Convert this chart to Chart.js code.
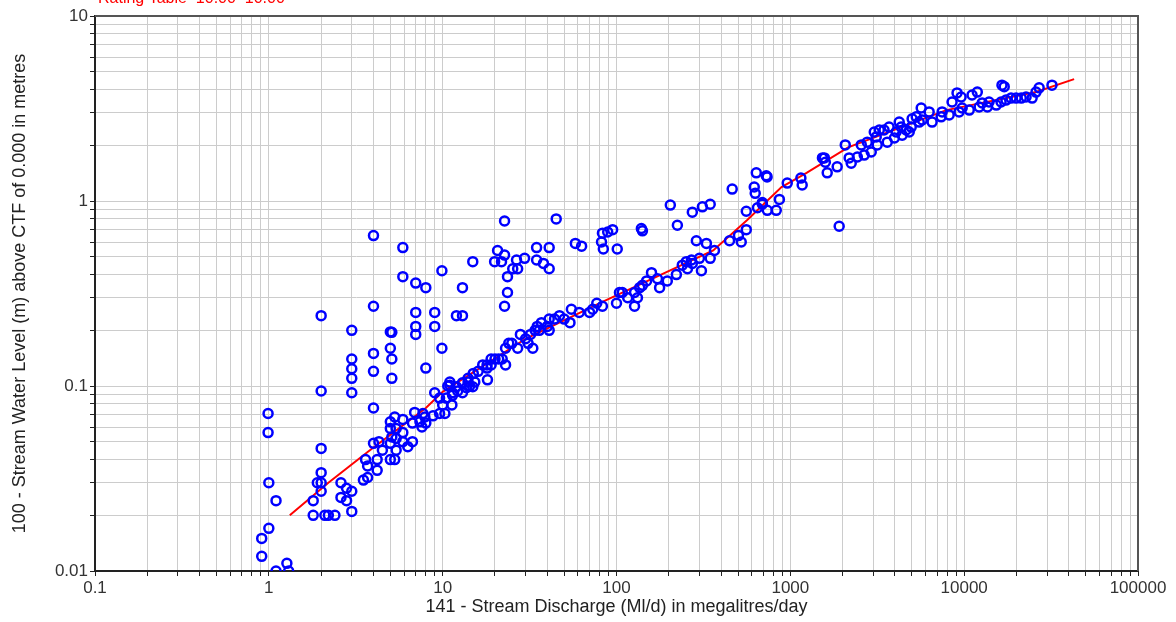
<!DOCTYPE html>
<html>
<head>
<meta charset="utf-8">
<title>Rating Table</title>
<script src="https://cdn.jsdelivr.net/npm/chart.js@4.4.1/dist/chart.umd.min.js"></script>
<style>
  html, body { margin: 0; padding: 0; background: #fff; }
  #wrap { position: relative; width: 1176px; height: 622px; }
</style>
</head>
<body>
<div id="wrap"><canvas id="ratingChart"></canvas></div>
<script>
const chartLabel = "Rating Table  10.00  10.00";
const xTitle = "141 - Stream Discharge (Ml/d) in megalitres/day";
const yTitle = "100 - Stream Water Level (m) above CTF of 0.000 in metres";

// axis decades and their labels
const xDecades = [0.1, 1, 10, 100, 1000, 10000, 100000];
const xTickLabels = ["0.1", "1", "10", "100", "1000", "10000", "100000"];
const yDecades = [0.01, 0.1, 1, 10];
const yTickLabels = ["0.01", "0.1", "1", "10"];

// gauged discharge (Ml/d)
const gaugedFlow = [
  0.99, 0.99, 1.0, 1.1, 1.0, 0.91, 0.91, 1.1, 1.27, 1.3,
  2.0, 3.0, 4.0, 9.0, 2.0, 2.0, 1.9, 2.0, 2.0, 2.6, 2.8, 3.0, 2.6, 2.8, 1.8, 1.8, 2.1, 2.2, 2.4, 3.0,
  3.6, 3.7, 3.7, 3.5, 4.2, 4.2, 4.0, 4.3, 4.5, 5.0, 5.0, 5.3, 5.4, 5.1, 5.4, 5.9, 5.9, 6.7, 6.3,
  5.0, 5.3, 5.9, 5.4, 5.0, 6.9, 6.7, 7.6, 7.4, 7.9, 7.7, 8.0, 8.8, 9.6, 10.3, 11.3, 10, 10.7,
  11.4, 12.2, 13.7, 14.9, 15.3, 18.1, 9.6, 10.5, 11.4, 13.0, 14.3,
  22.7, 4.0, 5.9, 5.9, 7.0, 8.0, 9.9, 14.9, 13.0, 20.7, 22.7, 19.9, 21.8, 26.6, 29.6, 25.3, 27.0,
  23.6, 23.6, 22.7, 34.7, 34.7, 2.0, 4.0, 3.0, 5.0, 5.1, 7.0, 9.0, 7.0, 7.0, 9.0, 12.0, 13.0,
  5.0, 5.1, 5.1, 4.0, 4.0, 3.0, 3.0, 3.0, 9.9, 8.0,
  21, 20, 19, 19, 18, 18, 17, 16, 15, 14, 14, 13, 12, 11, 11,
  45, 41, 38, 41, 58, 63, 82, 83, 89, 95, 84, 101, 139, 141, 204, 224, 273, 312, 346,
  463, 620, 628, 637, 727, 558, 690, 647, 690, 737, 830, 865, 558, 503, 522, 447, 366, 346,
  288, 329, 300, 308, 273, 252, 239, 256, 270, 221, 196, 172, 177, 159, 149, 141, 136,
  127, 132, 127, 116, 108, 104, 100, 83, 77, 73, 70, 61, 55, 54, 50, 47, 44, 41, 40, 37,
  36, 34, 32, 31, 28, 27, 25, 24, 23, 22, 23, 33, 41, 35, 30,
  1150, 1170, 960, 1570, 1630, 1860, 1910,
  735, 1530, 1590, 2070, 2180, 2240, 2430, 2560, 2660, 2770, 2920, 3160, 3120, 3040, 3250,
  3460, 3610, 3700, 3970, 4060, 4230, 4340, 4400, 4640, 4830, 4960, 5020, 5300, 5510, 5660,
  5740, 6290, 6540, 7370, 7470, 8200, 8520, 9100, 9600, 9350, 9740, 10700, 11100, 11900,
  12200, 12700, 13600, 13900, 15300, 16300, 16500, 17000, 17400, 18600, 19900, 21300,
  22700, 24600, 25900, 27000, 32000
];

// gauged stage (m)
const gaugedLevel = [
  0.071, 0.056, 0.030, 0.024, 0.017, 0.015, 0.012, 0.010, 0.011, 0.010,
  0.094, 0.092, 0.076, 0.092, 0.046, 0.034, 0.030, 0.030, 0.027, 0.030, 0.028, 0.027, 0.025, 0.024, 0.024, 0.020, 0.020, 0.020, 0.020, 0.021,
  0.040, 0.037, 0.032, 0.031, 0.040, 0.035, 0.049, 0.050, 0.045, 0.049, 0.040, 0.040, 0.045, 0.053, 0.052, 0.056, 0.050, 0.050, 0.047,
  0.064, 0.068, 0.066, 0.059, 0.059, 0.072, 0.063, 0.060, 0.064, 0.068, 0.071, 0.063, 0.069, 0.071, 0.071, 0.079, 0.079, 0.100,
  0.092, 0.094, 0.098, 0.099, 0.105, 0.108, 0.086, 0.086, 0.089, 0.092, 0.100,
  0.78, 0.65, 0.56, 0.39, 0.36, 0.34, 0.42, 0.47, 0.34, 0.54, 0.51, 0.47, 0.47, 0.48, 0.49, 0.43, 0.43,
  0.39, 0.32, 0.27, 0.56, 0.48, 0.24, 0.27, 0.20, 0.196, 0.195, 0.25, 0.25, 0.21, 0.19, 0.21, 0.24, 0.24,
  0.16, 0.14, 0.11, 0.15, 0.12, 0.14, 0.124, 0.11, 0.16, 0.125,
  0.14, 0.14, 0.14, 0.13, 0.13, 0.125, 0.13, 0.12, 0.117, 0.11, 0.105, 0.104, 0.099, 0.105, 0.101,
  0.80, 0.56, 0.46, 0.43, 0.59, 0.57, 0.60, 0.67, 0.68, 0.70, 0.55, 0.55, 0.71, 0.69, 0.95, 0.74, 0.87, 0.93, 0.96,
  1.16, 1.19, 1.10, 1.42, 1.37, 0.88, 0.98, 0.92, 0.96, 0.89, 0.89, 1.02, 0.70, 0.65, 0.60, 0.61, 0.54, 0.49,
  0.61, 0.59, 0.49, 0.42, 0.46, 0.47, 0.45, 0.43, 0.48, 0.40, 0.37, 0.38, 0.34, 0.41, 0.37, 0.35, 0.34,
  0.32, 0.30, 0.27, 0.30, 0.32, 0.32, 0.28, 0.27, 0.28, 0.26, 0.25, 0.25, 0.26, 0.22, 0.23, 0.24, 0.23, 0.23, 0.21, 0.22,
  0.20, 0.20, 0.19, 0.17, 0.19, 0.16, 0.17, 0.17, 0.16, 0.14, 0.13, 0.16, 0.20, 0.21, 0.18,
  1.33, 1.22, 1.25, 1.71, 1.42, 1.53, 0.73,
  1.35, 1.71, 1.62, 2.01, 1.71, 1.60, 1.73, 2.01, 1.77, 2.08, 1.84, 2.01, 2.22, 2.36, 2.42,
  2.42, 2.08, 2.51, 2.19, 2.36, 2.67, 2.51, 2.27, 2.42, 2.36, 2.51, 2.78, 2.85, 2.67, 3.18,
  2.74, 3.03, 2.67, 2.85, 3.03, 2.92, 3.43, 3.84, 3.65, 3.03, 3.18, 3.10, 3.74, 3.88,
  3.22, 3.39, 3.22, 3.43, 3.30, 3.43, 4.23, 4.15, 3.51, 3.60, 3.60, 3.60,
  3.65, 3.60, 3.88, 4.09, 4.23
];

// rating table (discharge, stage)
const ratingFlow = [1.32, 2.2, 3.7, 8, 10, 30, 83, 360, 565, 890, 1240, 2150, 7900, 25900, 42900];
const ratingLevel = [0.020, 0.030, 0.044, 0.076, 0.093, 0.18, 0.285, 0.54, 0.79, 1.19, 1.42, 1.95, 3.1, 3.88, 4.56];

// minor/major grid positions: 1..9 in every decade
function decadeTicks(decades) {
  const out = [];
  for (let i = 0; i < decades.length - 1; i++) {
    for (let m = 1; m <= 9; m++) out.push(decades[i] * m);
  }
  out.push(decades[decades.length - 1]);
  return out;
}

function decadeLabel(value, decades, labels) {
  const i = decades.findIndex(d => Math.abs(value / d - 1) < 1e-6);
  return i >= 0 ? labels[i] : "";
}

const fontFamily = '"Liberation Sans", Arial, Helvetica, sans-serif';
Chart.defaults.font.family = fontFamily;

const frame = {
  id: "frame",
  afterDraw(chart) {
    const { ctx, chartArea: a } = chart;
    ctx.save();
    ctx.strokeStyle = "#555";
    ctx.lineWidth = 2;
    ctx.beginPath();
    ctx.moveTo(a.left, a.top);
    ctx.lineTo(a.right, a.top);
    ctx.lineTo(a.right, a.bottom);
    ctx.stroke();
    ctx.fillStyle = "#ff0000";
    ctx.font = "16px " + fontFamily;
    ctx.textBaseline = "alphabetic";
    ctx.fillText(chartLabel, 98, 3);
    ctx.restore();
  }
};

const ctx = document.getElementById("ratingChart").getContext("2d");
new Chart(ctx, {
  data: {
    datasets: [
      {
        type: "scatter",
        label: "Gaugings",
        data: gaugedFlow.map((q, i) => ({ x: q, y: gaugedLevel[i] })),
        pointStyle: "circle",
        pointRadius: 4.5,
        pointBorderWidth: 2.5,
        borderColor: "#0000ff",
        backgroundColor: "rgba(0,0,0,0)"
      },
      {
        type: "line",
        label: "Rating Table",
        data: ratingFlow.map((q, i) => ({ x: q, y: ratingLevel[i] })),
        borderColor: "#ff0000",
        borderWidth: 2,
        pointRadius: 0,
        tension: 0,
        fill: false
      }
    ]
  },
  options: {
    responsive: true,
    maintainAspectRatio: false,
    animation: false,
    layout: { padding: { top: 16, right: 38, bottom: 0, left: 0 } },
    plugins: {
      legend: { display: false },
      tooltip: { enabled: false }
    },
    scales: {
      x: {
        type: "logarithmic",
        min: 0.1,
        max: 100000,
        afterBuildTicks: s => { s.ticks = decadeTicks(xDecades).map(v => ({ value: v })); },
        afterFit: s => { s.height = 51; },
        ticks: {
          autoSkip: false,
          maxRotation: 0,
          padding: 2,
          color: "#333",
          font: { size: 17 },
          callback: v => decadeLabel(v, xDecades, xTickLabels)
        },
        grid: { color: "#cccccc", lineWidth: 1, tickColor: "#222", tickLength: 5 },
        border: { color: "#222", width: 2 },
        title: {
          display: true,
          text: xTitle,
          color: "#222",
          font: { size: 18 },
          padding: { top: 0, bottom: 4 }
        }
      },
      y: {
        type: "logarithmic",
        min: 0.01,
        max: 10,
        afterBuildTicks: s => { s.ticks = decadeTicks(yDecades).map(v => ({ value: v })); },
        afterFit: s => { s.width = 95; },
        ticks: {
          autoSkip: false,
          padding: 2,
          color: "#333",
          font: { size: 17 },
          callback: v => decadeLabel(v, yDecades, yTickLabels)
        },
        grid: { color: "#cccccc", lineWidth: 1, tickColor: "#222", tickLength: 5 },
        border: { color: "#222", width: 2 },
        title: {
          display: true,
          text: yTitle,
          color: "#222",
          font: { size: 18 },
          padding: { top: 9, bottom: 0 }
        }
      }
    }
  },
  plugins: [frame]
});
</script>
</body>
</html>
